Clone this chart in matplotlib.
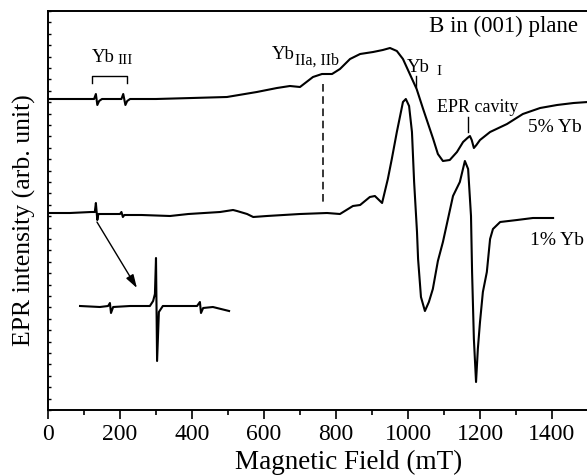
import numpy as np
import matplotlib
matplotlib.use("Agg")
import matplotlib.pyplot as plt
from matplotlib.ticker import MultipleLocator

plt.rcParams['font.family'] = ['Liberation Serif', 'DejaVu Serif']

# ---- data (field in mT, intensity in arbitrary units) ----
field_5 = [0, 60, 120, 128, 133, 137, 142, 150, 200, 204, 209, 215, 220, 228,
           300, 400, 497, 580, 636, 672, 700, 736, 761, 789, 811, 839, 867, 903,
           930, 950, 969, 986, 1005, 1024, 1042, 1070, 1083, 1097, 1116, 1136,
           1153, 1165, 1172, 1177, 1183, 1190, 1200, 1228, 1275, 1319, 1367,
           1414, 1460, 1500]
int_5 = [311, 311, 311, 311, 316, 305, 309, 311, 311, 311, 316, 305, 309, 311,
         311, 312, 313, 318, 322, 324, 323, 333, 336, 336, 341, 351, 356, 358,
         360, 362, 359, 351, 336, 321, 301, 271, 256, 249, 250, 258,
         268, 272, 274, 270, 262, 265, 270, 278, 286, 296, 302,
         305, 307, 308]

field_1 = [0, 61, 120, 130, 133, 137, 140, 160, 200, 204,
           208, 212, 260, 339, 390, 478, 514, 525, 553, 570,
           608, 700, 775, 811, 847, 867, 894, 908, 928, 944,
           955, 969, 986, 994, 1003, 1011, 1017, 1025, 1028, 1036,
           1047, 1058, 1069, 1083, 1097, 1125, 1144, 1158, 1167, 1175,
           1178, 1183, 1189, 1194, 1200, 1208, 1219, 1228, 1236, 1256,
           1303, 1347, 1403]
int_1 = [197, 197, 198, 198, 207, 190, 196, 196, 196, 198,
         193, 195, 195, 194, 196, 198, 200, 199, 196, 193,
         194, 196, 197, 196, 204, 205, 213, 214, 207, 231,
         251, 278, 308, 311, 304, 278, 228, 178, 151, 113,
         99, 108, 121, 149, 168, 214, 228, 249, 241, 194,
         138, 71, 28, 61, 88, 118, 138, 171, 181, 188,
         190, 192, 192]

# magnified Yb III detail (drawn in main-axes units)
inset_field = [89, 144, 167, 172, 175, 181, 228, 283, 292, 297, 300, 303,
               308, 319, 414, 422, 425, 431, 458, 503]
inset_int = [104, 103, 104, 107, 97, 103, 104, 104, 109, 116, 152, 49,
             98, 104, 104, 108, 97, 102, 103, 99]

xticks = [0, 200, 400, 600, 800, 1000, 1200, 1400]

fig = plt.figure(figsize=(5.87, 4.77), dpi=100)
ax = fig.add_axes([48/587, 1-411/477, 540/587, 399/477])

lw = 1.5
ax.plot(field_5, int_5, color='black', lw=lw)
ax.plot(field_1, int_1, color='black', lw=lw)
ax.plot(inset_field, inset_int, color='black', lw=lw)

ax.set_xlim(0, 1500)
ax.set_ylim(0, 399)

ax.set_xticks(xticks)
ax.xaxis.set_minor_locator(MultipleLocator(100))
ax.set_yticks(np.linspace(0, 399, 36))
ax.set_yticklabels([])
ax.tick_params(axis='x', which='major', direction='out', length=6.5, width=1.2,
               labelsize=17, pad=3, top=False)
ax.tick_params(axis='x', which='minor', direction='out', length=3.5, width=1.2, top=False)
ax.tick_params(axis='y', which='major', direction='in', length=2.2, width=1.0, right=False)
for s in ['left', 'bottom', 'top']:
    ax.spines[s].set_linewidth(1.4)
ax.spines['right'].set_visible(False)

ax.set_xlabel('Magnetic Field (mT)', fontsize=19.5)
ax.xaxis.label.set_va('baseline')
ax.xaxis.set_label_coords(0.556, -0.146)
ax.set_ylabel('EPR intensity (arb. unit)', fontsize=18.5)
ax.yaxis.label.set_va('center')
ax.yaxis.set_label_coords(-0.0435, 0.479)

# annotations
ax.text(1472, 379, 'B in (001) plane', fontsize=16.5, ha='right', va='baseline')
ax.text(122, 349, 'Yb', fontsize=13.5, va='baseline')
ax.text(192, 347, 'III', fontsize=11, va='baseline')
ax.text(622, 352, 'Yb', fontsize=13.5, va='baseline')
ax.text(686, 346, 'IIa, IIb', fontsize=11.5, va='baseline')
ax.text(997, 339, 'Yb', fontsize=13.5, va='baseline')
ax.text(1078, 336, 'I', fontsize=11, va='baseline')
ax.text(1081, 299, 'EPR cavity', fontsize=13, va='baseline')
ax.text(1333, 279, '5% Yb', fontsize=14, va='baseline')
ax.text(1339, 166, '1% Yb', fontsize=14, va='baseline')

# bracket for Yb III
ax.plot([122, 122, 219, 219], [327, 334, 334, 327], color='black', lw=1.0)
# dashed marker for Yb IIa, IIb
ax.plot([764, 764], [326, 208], color='black', lw=1.1, ls=(0, (5, 3)))
# tick for Yb I
ax.plot([1022, 1022], [334, 323], color='black', lw=1.0)
# tick for EPR cavity
ax.plot([1167, 1167], [293, 278], color='black', lw=1.0)
# arrow to magnified detail
ax.annotate('', xy=(247, 122), xytext=(136, 188),
            arrowprops=dict(arrowstyle='-|>,head_length=0.8,head_width=0.25',
                            color='black', lw=1.0, shrinkA=0, shrinkB=0))

fig.savefig('out.png', dpi=100)
